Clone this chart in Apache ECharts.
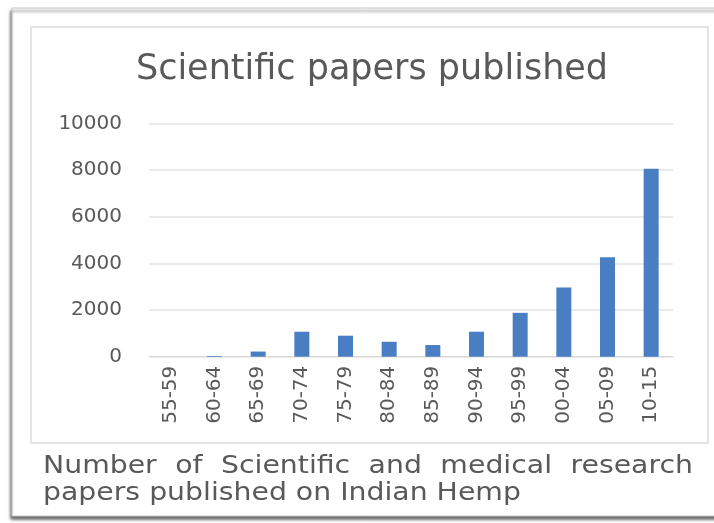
<!DOCTYPE html>
<html>
<head>
<meta charset="utf-8">
<title>Scientific papers published</title>
<script src="https://cdn.jsdelivr.net/npm/echarts@6/dist/echarts.min.js"></script>
<style>
  html, body { margin: 0; padding: 0; background: #ffffff; }
  #chart { width: 714px; height: 523px; }
</style>
</head>
<body>
<div id="chart"></div>
<script>
// Five-year periods (two-digit years) and paper counts per period
const periods = ['55-59', '60-64', '65-69', '70-74', '75-79', '80-84', '85-89', '90-94', '95-99', '00-04', '05-09', '10-15'];
const papers = [0, 30, 220, 1070, 900, 640, 500, 1070, 1880, 2970, 4260, 8050];
const yTicks = { min: 0, max: 10000, interval: 2000 };

const chartTitle = 'Scientific papers published';
const captionLine1 = ['Number', 'of', 'Scientific', 'and', 'medical', 'research'];
const captionLine2 = 'papers published on Indian Hemp';

const FONT = '"DejaVu Sans", Verdana, sans-serif';
const TEXT_GRAY = '#595959';
const CAPTION_SIZE = 24;
const CAPTION_STRETCH = 1.18;

// Justify the first caption line between two x positions (words are stretched horizontally)
function justifiedWords(words, x0, x1, y, size, stretch) {
  const ctx = document.createElement('canvas').getContext('2d');
  ctx.font = size + 'px ' + FONT;
  const widths = words.map(w => ctx.measureText(w).width * stretch);
  const total = widths.reduce((a, b) => a + b, 0);
  const gap = (x1 - x0 - total) / (words.length - 1);
  let x = x0;
  return words.map((w, i) => {
    const el = {
      type: 'text', x: x, y: y, scaleX: stretch, z: 10, silent: true,
      style: { text: w, font: size + 'px ' + FONT, fill: TEXT_GRAY, verticalAlign: 'top' }
    };
    x += widths[i] + gap;
    return el;
  });
}

const chart = echarts.init(document.getElementById('chart'), null, { renderer: 'canvas' });

const option = {
  backgroundColor: '#ffffff',
  animation: false,
  title: {
    text: chartTitle,
    left: 367, top: 47, textAlign: 'center',
    textStyle: { fontFamily: FONT, fontSize: 35, fontWeight: 'normal', color: TEXT_GRAY }
  },
  grid: { left: 149, right: 41, top: 123.3, bottom: 166.3 },
  xAxis: {
    type: 'category',
    data: periods,
    axisLine: { show: true, lineStyle: { color: '#d9d9d9', width: 1 } },
    axisTick: { show: false },
    axisLabel: {
      rotate: 90, margin: 9, interval: 0,
      fontFamily: FONT, fontSize: 20, color: TEXT_GRAY
    }
  },
  yAxis: {
    type: 'value',
    min: yTicks.min, max: yTicks.max, interval: yTicks.interval,
    axisLine: { show: false },
    axisTick: { show: false },
    splitLine: { lineStyle: { color: '#e3e3e3', width: 1.5 } },
    axisLabel: {
      margin: 27, fontFamily: FONT, fontSize: 20, color: TEXT_GRAY,
      formatter: v => String(v)
    }
  },
  series: [{
    type: 'bar',
    data: papers,
    barWidth: 15,
    itemStyle: { color: '#4a7ec2' }
  }],
  graphic: [
    // outer framed panel with a soft shadow
    {
      type: 'rect', z: -20, silent: true,
      shape: { x: 12, y: 8, width: 730, height: 508 },
      style: {
        fill: '#ffffff', stroke: '#c8c8c8', lineWidth: 1,
        shadowColor: 'rgba(0,0,0,0.6)', shadowBlur: 3, shadowOffsetX: -1, shadowOffsetY: 3
      }
    },
    // chart area border
    {
      type: 'rect', z: -10, silent: true,
      shape: { x: 31, y: 27, width: 677, height: 416 },
      style: { fill: '#ffffff', stroke: '#dcdcdc', lineWidth: 1.5 }
    },
    ...justifiedWords(captionLine1, 43, 693, 455, CAPTION_SIZE, CAPTION_STRETCH),
    {
      type: 'text', x: 43, y: 482, scaleX: CAPTION_STRETCH, z: 10, silent: true,
      style: { text: captionLine2, font: CAPTION_SIZE + 'px ' + FONT, fill: TEXT_GRAY, verticalAlign: 'top' }
    }
  ]
};

chart.setOption(option);
</script>
</body>
</html>
